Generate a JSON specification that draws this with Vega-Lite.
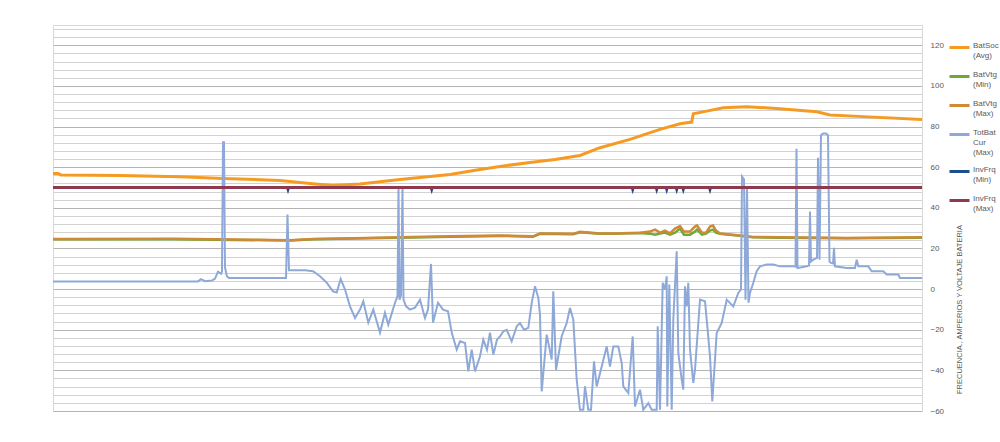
{
  "$schema": "https://vega.github.io/schema/vega-lite/v6.json",
  "width": 869,
  "height": 386,
  "autosize": "none",
  "padding": {"left": 53, "top": 25, "right": 78, "bottom": 31},
  "background": "white",
  "config": {"view": {"stroke": "#d9d9d9", "strokeWidth": 1}},
  "datasets": {
    "soc": [[0,56.9],[5,56.9],[8,56.2],[67,55.9],[127,55.3],[170,54.5],[227,53.5],[257,52.0],[280,51.0],[307,51.7],[347,54.0],[397,56.4],[427,58.9],[447,60.4],[477,62.3],[502,63.8],[527,65.8],[547,69.6],[577,73.7],[607,78.6],[627,81.4],[638.7,82.2],[640.3,86.3],[653.7,87.6],[670.3,89.3],[693.7,89.8],[727,88.8],[763.7,87.3],[777,85.7],[810.3,84.9],[869,83.5]],
    "vmax": [[0,24.7],[120,24.8],[237,24.1],[260,24.7],[313.7,25.2],[347,25.5],[397,26.0],[447,26.4],[480,26.0],[487,27.4],[520,27.2],[527,28.2],[547,27.4],[560,27.4],[587,27.8],[597,28.3],[602,29.3],[607,27.8],[612,28.8],[617,27.4],[622,29.8],[627,31.0],[631,28.3],[637,28.3],[642,30.8],[644,31.4],[649,27.8],[653,27.8],[657,30.8],[660,31.3],[663,28.8],[667,27.4],[687,26.4],[700,25.7],[727,25.5],[793.7,25.2],[869,25.5]],
    "vmin": [[0,24.5],[120,24.6],[237,23.9],[260,24.5],[313.7,25.0],[347,25.3],[397,25.8],[447,26.2],[480,25.8],[487,27.2],[520,27.0],[527,28.0],[547,27.2],[560,27.2],[587,27.6],[597,27.3],[602,26.8],[607,27.3],[612,27.8],[617,26.8],[622,27.8],[627,29.8],[631,26.8],[637,26.8],[642,28.3],[644,29.3],[649,26.8],[653,27.3],[657,28.8],[660,29.3],[663,27.8],[667,27.2],[687,26.2],[700,25.5],[727,25.3],[793.7,25.0],[869,25.3]],
    "cur": [[0,3.8],[67,3.8],[145,3.8],[148,4.9],[152,3.9],[159,4.2],[162,5.2],[165,8.6],[168,7.6],[169,8.6],[170,72.3],[171,72.3],[172,10.6],[174,6.2],[176,5.5],[233,5.5],[234.5,36.7],[236,9.3],[252,9.3],[260,8.8],[267,6.3],[273.7,3.2],[280,-1.1],[283.7,-1.7],[287.7,5.0],[292,-0.2],[297,-8.5],[302,-14.2],[307,-10.1],[310.3,-6.0],[315.3,-16.5],[320.3,-10.1],[327,-21.4],[332,-11.6],[335.3,-17.5],[342,-6.7],[344.5,-3.5],[345.5,50.0],[346.5,-5.2],[348,-3.2],[349.5,50.0],[350.5,-5.2],[353,-8.5],[357,-10.1],[362,-9.1],[367,-5.2],[372,-14.2],[375,-10.1],[378,12.4],[380,-16.5],[385,-6.7],[390,-10.1],[395,-10.9],[398.7,-21.4],[403.7,-29.8],[407,-25.7],[412,-26.5],[415.3,-40.5],[418.7,-29.8],[422,-40.5],[427,-33.1],[430.3,-24.9],[434,-29.8],[437,-21.4],[440.3,-32.3],[444,-24.9],[447,-23.3],[450.3,-20.8],[453.7,-20.0],[458.7,-25.7],[463.7,-18.3],[467,-16.7],[471,-20.0],[475.3,-19.1],[478.7,-6.8],[482,1.4],[485.3,-4.3],[487,-12.6],[488.7,-50.4],[493.7,-22.4],[498.7,-34.7],[500.3,-1.1],[503,-39.7],[508.7,-23.2],[513.7,-16.7],[517,-9.3],[520.3,-15.0],[523.7,-44.6],[527,-59.4],[530.3,-59.4],[532,-47.9],[535.3,-59.4],[538,-59.4],[541,-35.6],[543.7,-47.9],[548.7,-38.1],[553.7,-28.2],[557,-38.1],[560.3,-28.2],[565.3,-28.2],[568.7,-36.4],[570.3,-47.9],[575.3,-51.2],[579.7,-23.3],[582,-57.8],[587,-49.5],[590.3,-59.4],[595.3,-56.1],[598.7,-59.4],[603.7,-59.4],[604.7,-18.3],[607,-59.4],[609.7,3.1],[612,-0.2],[613.7,6.3],[614.3,-57.8],[616.3,2.2],[618.7,-59.4],[620.3,-15.0],[623.7,18.6],[625.3,-31.4],[628.7,-44.6],[630.3,-49.5],[632,1.4],[633.7,-8.5],[635.3,3.1],[637,-29.8],[640.3,-46.2],[642,-39.7],[647,-5.2],[652,-6.0],[653.7,-15.0],[657,-33.1],[659.3,-55.3],[663.7,-21.6],[668.7,-16.7],[673.7,-5.2],[680.3,-8.5],[685.3,-1.9],[688,-0.2],[689,55.4],[691,54.0],[692.5,-5.2],[694,50.0],[695.5,-6.7],[697,-1.9],[700.3,3.1],[703.7,8.8],[707,11.2],[713.7,12.1],[720.3,12.1],[727,11.2],[740.3,11.2],[742.5,11.1],[743.5,69.1],[744.5,10.4],[753.7,11.2],[756,11.6],[757,38.2],[758,13.6],[760.3,14.5],[764,15.4],[765,64.7],[766.5,14.5],[768,75.7],[770,76.6],[773,76.6],[775,75.7],[776.5,13.6],[778,12.9],[780,12.6],[781,20.3],[782,11.2],[793.7,10.4],[802,10.4],[803.7,14.5],[805.3,11.2],[815.3,11.2],[818.7,8.8],[830.3,8.8],[833.7,7.2],[845.3,7.2],[847,5.5],[869,5.5]],
    "fmin": [[0,50],[234.5,50],[235,49.2],[235.5,50],[378.2,50],[378.7,49.2],[379.2,50],[579.2,50],[579.7,49.2],[580.2,50],[603.2,50],[603.7,49.2],[604.2,50],[613.2,50],[613.7,49.2],[614.2,50],[623.2,50],[623.7,49.2],[624.2,50],[629.8,50],[630.3,49.2],[630.8,50],[656.5,50],[657,49.2],[657.5,50],[869,50]],
    "fmax": [[0,50],[869,50]]
  },
  "layer": [
    {
      "data": {"name": "soc"},
      "transform": [{"calculate": "'BatSoc (Avg)'", "as": "series"}, {"calculate": "datum[0]", "as": "t"}, {"calculate": "datum[1]", "as": "value"}],
      "mark": {"type": "line", "strokeWidth": 3, "color": "#F59B23"},
      "encoding": {
        "x": {"field": "t", "type": "quantitative", "scale": {"domain": [0, 869], "nice": false, "zero": false}, "axis": null},
        "y": {"field": "value", "type": "quantitative", "scale": {"domain": [-60, 130], "nice": false, "zero": false},
          "axis": {"orient": "right", "title": "FRECUENCIA., AMPERIOS Y VOLTAJE BATERIA",
            "values": [-60,-56,-52,-48,-44,-40,-36,-32,-28,-24,-20,-16,-12,-8,-4,0,4,8,12,16,20,24,28,32,36,40,44,48,52,56,60,64,68,72,76,80,84,88,92,96,100,104,108,112,116,120,124,128],
            "tickCount": 200,
            "labelExpr": "datum.value % 20 === 0 ? datum.label : ''",
            "labelOverlap": false, "labelBound": false, "labelFlush": false,
            "grid": true,
            "gridColor": {"condition": {"test": "datum.value % 20 === 0", "value": "#b4b4b4"}, "value": "#d2d2d2"},
            "gridWidth": 1,
            "ticks": false, "domain": true, "domainColor": "#d9d9d9",
            "labelFont": "Liberation Sans", "labelFontSize": 8, "labelColor": "#595959", "labelPadding": 8, "labelAlign": "left",
            "titleFont": "Liberation Sans", "titleFontSize": 7.5, "titleFontWeight": "normal", "titleColor": "#595959",
            "titleAngle": 270, "titleX": 37, "titleY": 284, "titleAlign": "center", "titleBaseline": "middle"}},
        "color": {"field": "series", "type": "nominal",
          "scale": {"domain": ["BatSoc (Avg)", "BatVtg (Min)", "BatVtg (Max)", "TotBat Cur (Max)", "InvFrq (Min)", "InvFrq (Max)"],
            "range": ["#F59B23", "#6AAB3A", "#D08A35", "#8EA9D8", "#1F4E8C", "#8E3A4E"]},
          "legend": {"orient": "none", "legendX": 895, "legendY": 8, "title": null, "symbolType": "stroke", "symbolSize": 400, "symbolStrokeWidth": 3,
            "labelExpr": "split(datum.label, ' ')", "labelBaseline": "alphabetic", "labelFont": "Liberation Sans", "labelFontSize": 8, "labelColor": "#595959",
            "labelOffset": 2, "rowPadding": 0, "clipHeight": 29}}
      }
    },
    {
      "data": {"name": "vmin"},
      "transform": [{"calculate": "'BatVtg (Min)'", "as": "series"}, {"calculate": "datum[0]", "as": "t"}, {"calculate": "datum[1]", "as": "value"}],
      "mark": {"type": "line", "strokeWidth": 2.5},
      "encoding": {"x": {"field": "t", "type": "quantitative"}, "y": {"field": "value", "type": "quantitative"}, "color": {"field": "series", "type": "nominal"}}
    },
    {
      "data": {"name": "vmax"},
      "transform": [{"calculate": "'BatVtg (Max)'", "as": "series"}, {"calculate": "datum[0]", "as": "t"}, {"calculate": "datum[1]", "as": "value"}],
      "mark": {"type": "line", "strokeWidth": 2.5},
      "encoding": {"x": {"field": "t", "type": "quantitative"}, "y": {"field": "value", "type": "quantitative"}, "color": {"field": "series", "type": "nominal"}}
    },
    {
      "data": {"name": "cur"},
      "transform": [{"calculate": "'TotBat Cur (Max)'", "as": "series"}, {"calculate": "datum[0]", "as": "t"}, {"calculate": "datum[1]", "as": "value"}],
      "mark": {"type": "line", "strokeWidth": 2},
      "encoding": {"x": {"field": "t", "type": "quantitative"}, "y": {"field": "value", "type": "quantitative"}, "color": {"field": "series", "type": "nominal"}}
    },
    {
      "data": {"name": "fmin"},
      "transform": [{"calculate": "'InvFrq (Min)'", "as": "series"}, {"calculate": "datum[0]", "as": "t"}, {"calculate": "datum[1]", "as": "value"}],
      "mark": {"type": "line", "strokeWidth": 3},
      "encoding": {"x": {"field": "t", "type": "quantitative"}, "y": {"field": "value", "type": "quantitative"}, "color": {"field": "series", "type": "nominal"}}
    },
    {
      "data": {"name": "fmax"},
      "transform": [{"calculate": "'InvFrq (Max)'", "as": "series"}, {"calculate": "datum[0]", "as": "t"}, {"calculate": "datum[1]", "as": "value"}],
      "mark": {"type": "line", "strokeWidth": 3},
      "encoding": {"x": {"field": "t", "type": "quantitative"}, "y": {"field": "value", "type": "quantitative"}, "color": {"field": "series", "type": "nominal"}}
    }
  ]
}
